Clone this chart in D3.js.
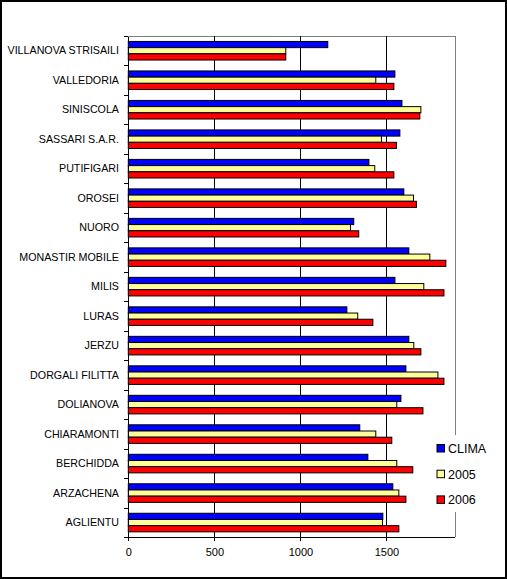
<!DOCTYPE html>
<html>
<head>
<meta charset="utf-8">
<script src="https://cdn.jsdelivr.net/npm/d3@7/dist/d3.min.js"></script>
<style>
  body { margin: 0; background: #fff; }
  text { font-family: Arial, "Liberation Sans", sans-serif; fill: #000; }
  .axis path, .axis line { stroke: #000; shape-rendering: crispEdges; }
</style>
</head>
<body>
<script>
var w = 507;
var h = 579;

// categories top to bottom
var stations = ["VILLANOVA STRISAILI", "VALLEDORIA", "SINISCOLA", "SASSARI S.A.R.",
  "PUTIFIGARI", "OROSEI", "NUORO", "MONASTIR MOBILE", "MILIS", "LURAS", "JERZU",
  "DORGALI FILITTA", "DOLIANOVA", "CHIARAMONTI", "BERCHIDDA", "ARZACHENA", "AGLIENTU"];

var series = ["CLIMA", "2005", "2006"];

var clima = [1159, 1549, 1590, 1578, 1398, 1601, 1310, 1630, 1549, 1270, 1630, 1613, 1584, 1345, 1392, 1537, 1479];
var y2005 = [915, 1438, 1700, 1471, 1432, 1657, 1291, 1752, 1717, 1333, 1659, 1799, 1560, 1438, 1560, 1572, 1477];
var y2006 = [915, 1543, 1694, 1558, 1543, 1674, 1339, 1845, 1834, 1421, 1700, 1834, 1712, 1531, 1653, 1613, 1572];

var xTicks = [0, 500, 1000, 1500];
var colors = ["#0000ff", "#ffff99", "#ff0000"];

var values = [clima, y2005, y2006];

// plot area
var pLeft = 128.3, pRight = 455.3, pTop = 36, pBottom = 537.3;

var svg = d3.select("body")
    .append("svg")
    .attr("width", w)
    .attr("height", h);

svg.append("rect")
    .attr("x", 1)
    .attr("y", 1)
    .attr("width", w - 2)
    .attr("height", h - 2)
    .attr("fill", "#fff")
    .attr("stroke", "#000")
    .attr("stroke-width", 2);

var xScale = d3.scaleLinear()
    .domain([0, 1900])
    .range([pLeft, pRight]);

var yScale = d3.scaleBand()
    .domain(stations)
    .range([pTop, pBottom])
    .padding(0);

var sScale = d3.scaleBand()
    .domain(series)
    .range([0, yScale.bandwidth()])
    .paddingInner(0)
    .paddingOuter(0.88);

// plot frame (gray top and right)
svg.append("path")
    .attr("d", "M" + pLeft + "," + pTop + "H" + pRight + "V" + pBottom)
    .attr("fill", "none")
    .attr("stroke", "#808080")
    .attr("shape-rendering", "crispEdges");

// vertical gridlines
svg.selectAll("line.grid")
    .data(xTicks.slice(1))
    .enter()
    .append("line")
    .attr("class", "grid")
    .attr("x1", function(d) { return xScale(d); })
    .attr("x2", function(d) { return xScale(d); })
    .attr("y1", pTop)
    .attr("y2", pBottom)
    .attr("stroke", "#000")
    .attr("shape-rendering", "crispEdges");

// bars
var groups = svg.selectAll("g.station")
    .data(stations)
    .enter()
    .append("g")
    .attr("class", "station")
    .attr("transform", function(d) { return "translate(0," + yScale(d) + ")"; });

groups.selectAll("rect")
    .data(function(d, i) {
      return series.map(function(s, j) { return { s: s, v: values[j][i], c: colors[j] }; });
    })
    .enter()
    .append("rect")
    .attr("x", xScale(0))
    .attr("y", function(d) { return sScale(d.s); })
    .attr("width", function(d) { return xScale(d.v) - xScale(0); })
    .attr("height", sScale.bandwidth())
    .attr("fill", function(d) { return d.c; })
    .attr("stroke", "#000")
    .attr("stroke-width", 1);

// x axis
var xAxis = svg.append("g")
    .attr("class", "axis")
    .attr("transform", "translate(0," + pBottom + ")")
    .call(d3.axisBottom(xScale).tickValues(xTicks).tickFormat(d3.format("d"))
      .tickSize(4).tickSizeOuter(0).tickPadding(7));
xAxis.select(".domain").attr("d", "M" + pLeft + ",0H" + pRight);
xAxis.selectAll("text").style("font-size", "11px");

// y axis: ticks on band boundaries
var yIdx = d3.scaleLinear().domain([0, stations.length]).range([pTop, pBottom]);
svg.append("g")
    .attr("class", "axis")
    .attr("transform", "translate(" + pLeft + ",0)")
    .call(d3.axisLeft(yIdx).ticks(stations.length).tickSize(4).tickSizeOuter(0).tickFormat(""));

svg.append("g")
    .selectAll("text")
    .data(stations)
    .enter()
    .append("text")
    .attr("x", 119)
    .attr("y", function(d) { return yScale(d) + yScale.bandwidth() / 2; })
    .attr("dy", "0.35em")
    .attr("text-anchor", "end")
    .style("font-size", "10.7px")
    .text(function(d) { return d; });

// legend
var legend = svg.append("g");
legend.append("rect")
    .attr("x", 431)
    .attr("y", 435)
    .attr("width", 66)
    .attr("height", 77)
    .attr("fill", "#fff");

var items = legend.selectAll("g")
    .data(series)
    .enter()
    .append("g")
    .attr("transform", function(d, i) { return "translate(437," + (444.5 + i * 25.7) + ")"; });

items.append("rect")
    .attr("width", 7.5)
    .attr("height", 7.5)
    .attr("fill", function(d, i) { return colors[i]; })
    .attr("stroke", "#000");

items.append("text")
    .attr("x", 11)
    .attr("y", 4)
    .attr("dy", "0.36em")
    .style("font-size", "12.5px")
    .text(function(d) { return d; });
</script>
</body>
</html>
